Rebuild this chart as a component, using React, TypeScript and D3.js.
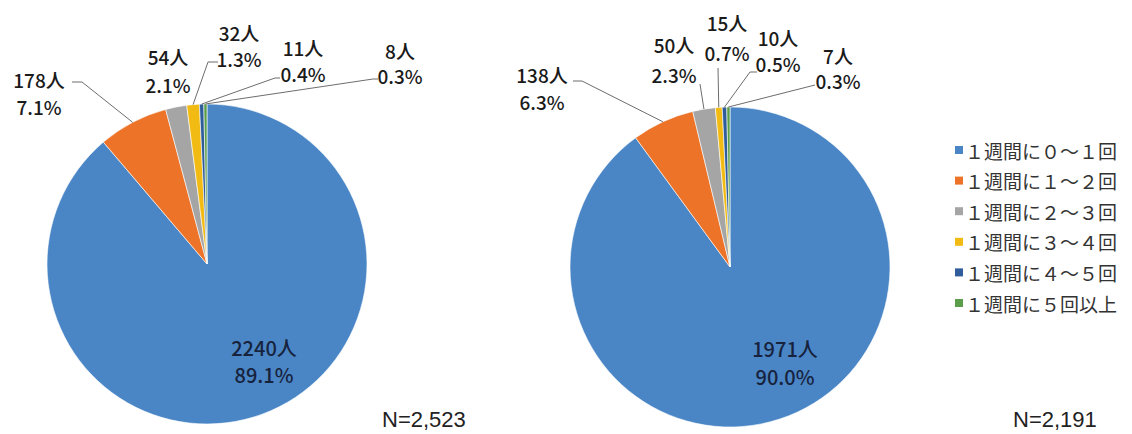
import React from 'react';
import * as d3 from 'd3';

// legend categories (full-width digits as in the original)
const categories = [
  '１週間に０～１回', '１週間に１～２回', '１週間に２～３回',
  '１週間に３～４回', '１週間に４～５回', '１週間に５回以上'
];
const leftCounts = [2240, 178, 54, 32, 11, 8];
const leftPercents = ['89.1%', '7.1%', '2.1%', '1.3%', '0.4%', '0.3%'];
const rightCounts = [1971, 138, 50, 15, 10, 7];
const rightPercents = ['90.0%', '6.3%', '2.3%', '0.7%', '0.5%', '0.3%'];
const totals = ['N=2,523', 'N=2,191'];

const colors = ['#4a86c5', '#ec7328', '#a5a5a5', '#f2bb14', '#2f5c9a', '#5a9e4b'];

const W = 1132;
const H = 434;
const radius = 160;
const labelFont = '"Noto Sans CJK JP", "Noto Sans", sans-serif';

// hand placed label boxes: centre x, y of first line, y of second line, leader points (label side)
type LabelPos = { x: number; y1: number; y2: number; leader?: [number, number][] };

const pies = [
  {
    cx: 207, cy: 264, counts: leftCounts, pcts: leftPercents, total: totals[0], totalX: 382,
    labels: [
      { x: 264, y1: 347, y2: 374 },
      { x: 39, y1: 79, y2: 106, leader: [[72, 82], [82, 82]] },
      { x: 168, y1: 56, y2: 84 },
      { x: 239, y1: 32, y2: 58, leader: [[218, 62], [208, 62]] },
      { x: 303, y1: 47, y2: 73, leader: [[280, 78], [275, 78]] },
      { x: 400, y1: 50, y2: 75, leader: [[378, 79], [373, 79]] },
    ] as LabelPos[],
  },
  {
    cx: 730, cy: 267, counts: rightCounts, pcts: rightPercents, total: totals[1], totalX: 1013,
    labels: [
      { x: 785, y1: 348, y2: 376 },
      { x: 542, y1: 74, y2: 101, leader: [[573, 81], [582, 81]] },
      { x: 674, y1: 44, y2: 74, leader: [[700, 84]] },
      { x: 727, y1: 22, y2: 52, leader: [[718, 68]] },
      { x: 778, y1: 37, y2: 63, leader: [[757, 72], [750, 72]] },
      { x: 838, y1: 55, y2: 80, leader: [[815, 85]] },
    ] as LabelPos[],
  },
];

const pie = d3.pie<number>().sort(null).value(d => d);
const arc = d3.arc<d3.PieArcDatum<number>>().innerRadius(0).outerRadius(radius);

const PieChart: React.FC<{ p: typeof pies[number] }> = ({ p }) => {
  const slices = pie(p.counts);
  return (
    <g>
      <g transform={`translate(${p.cx},${p.cy})`}>
        {slices.map((s, i) => (
          <path key={i} d={arc(s) || ''} fill={colors[i]} stroke="#fff" strokeWidth={0.6} />
        ))}
      </g>
      {slices.map((s, i) => {
        const lab = p.labels[i];
        const mid = (s.startAngle + s.endAngle) / 2;
        const ax = p.cx + Math.sin(mid) * radius;
        const ay = p.cy - Math.cos(mid) * radius;
        const pts = lab.leader ? [...lab.leader, [ax, ay]] : null;
        const inner = i === 0;
        const fill = inner ? '#17233d' : '#1a1a1a';
        return (
          <g key={i}>
            {pts && (
              <path d={d3.line()(pts as [number, number][]) || ''} fill="none" stroke="#6d6d6d" strokeWidth={1} />
            )}
            <text x={lab.x} y={lab.y1} textAnchor="middle" dominantBaseline="central"
              fontSize={inner ? 20 : 19} fontWeight={500} fill={fill}>
              {`${p.counts[i]}人`}
            </text>
            <text x={lab.x} y={lab.y2} textAnchor="middle" dominantBaseline="central"
              fontSize={inner ? 20 : 19} fontWeight={500} fill={fill}>
              {p.pcts[i]}
            </text>
          </g>
        );
      })}
      <text x={p.totalX} y={427} fontSize={22} fontFamily='"Liberation Sans", Arial, sans-serif' fill="#222">
        {p.total}
      </text>
    </g>
  );
};

export default function App() {
  const legendY = d3.scalePoint<string>().domain(categories).range([150, 303]);
  return (
    <svg width={W} height={H} viewBox={`0 0 ${W} ${H}`}
      style={{ position: 'absolute', left: 0, top: 0, background: '#fff' }} fontFamily={labelFont}>
      <rect width={W} height={H} fill="#fff" />
      {pies.map((p, i) => <PieChart key={i} p={p} />)}
      <g>
        {categories.map((c, i) => (
          <g key={c} transform={`translate(955,${legendY(c)})`}>
            <rect x={0} y={-4} width={8} height={8} fill={colors[i]} />
            <text x={10} y={0} dominantBaseline="central" fontSize={19} fill="#333">{c}</text>
          </g>
        ))}
      </g>
    </svg>
  );
}
